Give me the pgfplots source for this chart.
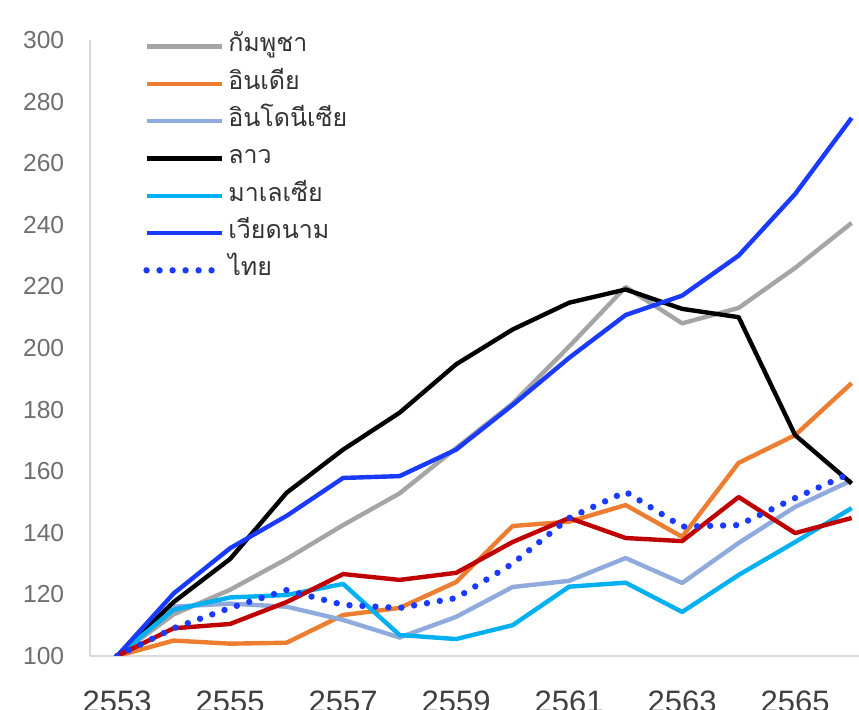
\documentclass[border=0pt]{standalone}
\usepackage{fontspec}
\setmainfont{Liberation Sans}
\newfontfamily\thai[Script=Thai]{Loma}
\usepackage{pgfplots}
\usepackage{pgfplotstable}
\pgfplotsset{compat=1.18}
\definecolor{cgray}{HTML}{A5A5A5}
\definecolor{corange}{HTML}{ED7D31}
\definecolor{cindo}{HTML}{8FAADC}
\definecolor{ccyan}{HTML}{00B0F0}
\definecolor{cblue}{HTML}{1A3BFF}
\definecolor{cred}{HTML}{C00000}
\definecolor{axisgray}{HTML}{D9D9D9}
\definecolor{ylab}{HTML}{6E6E6E}
\definecolor{xlab}{HTML}{404040}
\definecolor{legtext}{HTML}{333333}
\pgfplotstableread{
year gray orange indo laos malay viet thai red
2553 100 100 100 100 100 100 100 100
2554 113.5 105 116 117.5 115 120.3 109 109
2555 121.5 104 117 131.5 119 135 115.6 110.4
2556 131.5 104.3 116 153 119.8 145.5 121.4 117.5
2557 142.5 113.3 111.7 167 123.4 157.8 116.6 126.6
2558 152.8 115.6 106 179 106.8 158.4 115.6 124.7
2559 167.5 124 112.7 194.7 105.5 167 118.8 127
2560 182 142.2 122.4 206 110 181.5 130 137
2561 200.5 143.6 124.4 214.7 122.5 196.8 144.8 144.8
2562 219.8 149 131.8 219 123.8 210.7 153.3 138.3
2563 208 138.7 123.7 212.7 114.3 217 142 137.3
2564 213 162.7 136.7 210 126.3 230 142.5 151.6
2565 226 171.7 148.4 171.7 137 250 151.3 139.9
2566 240.6 188.6 157 156 148 274.7 159.5 144.8
}\datatable
\begin{document}
\begin{tikzpicture}
\begin{axis}[
  scale only axis, width=384.5pt, height=308pt,
  xmin=2552.52, xmax=2566.13, ymin=100, ymax=300,
  axis lines=left,
  axis line style={draw=axisgray, line width=0.8pt, -},
  xtick={2553,2555,...,2565}, ytick={100,120,...,300},
  major tick length=0pt, tick style={draw=none},
  /pgf/number format/assume math mode=true,
  /pgf/number format/1000 sep={},
  xticklabel style={font=\fontsize{15.5}{16}\selectfont, text=xlab, yshift=-14pt},
  yticklabel style={font=\fontsize{12.3}{13}\selectfont, text=ylab, xshift=-9.4pt},
  legend style={at={(rel axis cs:0.0689,1.0203)}, anchor=north west, draw=none, fill=none,
    font=\thai\fontsize{12.5}{13}\selectfont, text=legtext, row sep=0pt, inner sep=0pt,
    nodes={inner xsep=1.75pt, inner ysep=0pt, text height=12pt, text depth=6.65pt, anchor=west}},
  legend cell align=left,
  legend image code/.code={\draw[#1] (0pt,0pt) -- (37.5pt,0pt);},
  every axis plot/.append style={line join=round},
]
\path (rel axis cs:0,0) coordinate (ll) (rel axis cs:1,1) coordinate (ur);
\addplot[cgray, line width=2.2pt] table[x=year,y=gray]{\datatable};
\addlegendentry{กัมพูชา}
\addplot[corange, line width=2.2pt] table[x=year,y=orange]{\datatable};
\addlegendentry{อินเดีย}
\addplot[cindo, line width=2.2pt] table[x=year,y=indo]{\datatable};
\addlegendentry{อินโดนีเซีย}
\addplot[black, line width=2.2pt] table[x=year,y=laos]{\datatable};
\addlegendentry{ลาว}
\addplot[ccyan, line width=2.2pt] table[x=year,y=malay]{\datatable};
\addlegendentry{มาเลเซีย}
\addplot[cblue, line width=2.2pt] table[x=year,y=viet]{\datatable};
\addlegendentry{เวียดนาม}
\addplot[cred, line width=2.2pt, forget plot] table[x=year,y=red]{\datatable};
\addplot[cblue, line width=3.2pt, line cap=round, dash pattern=on 0pt off 6.5pt] table[x=year,y=thai]{\datatable};
\addlegendentry{ไทย}
\end{axis}
\pgfresetboundingbox
\useasboundingbox ([xshift=-45pt,yshift=-27pt]ll) rectangle ([yshift=20pt]ur);
\end{tikzpicture}
\end{document}
